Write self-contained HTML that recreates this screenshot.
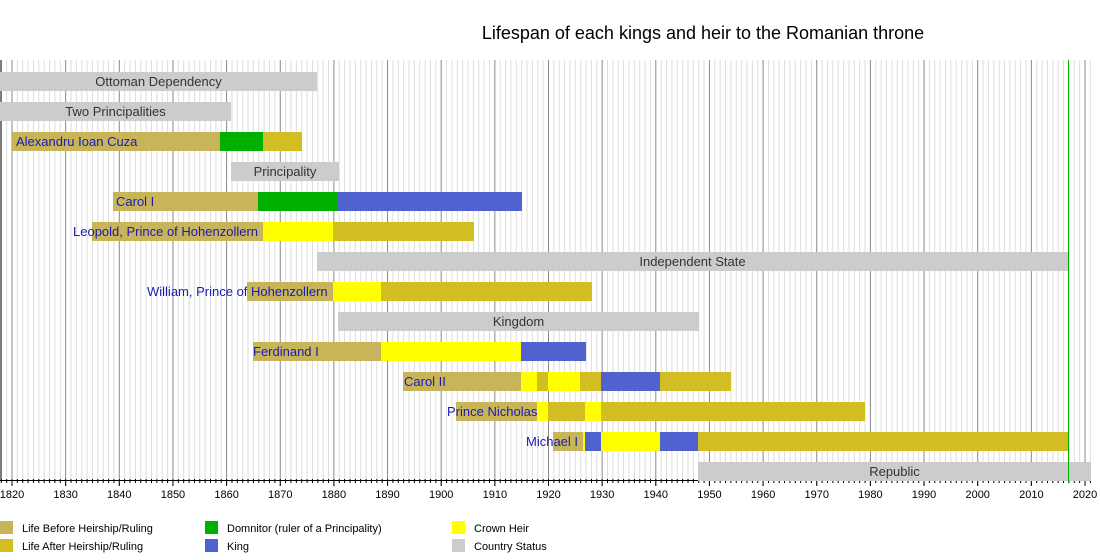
<!DOCTYPE html>
<html><head><meta charset="utf-8"><style>body{margin:0;background:#fff}svg{display:block}</style></head>
<body>
<svg id="s" width="1100" height="560" xmlns="http://www.w3.org/2000/svg" font-family="Liberation Sans, sans-serif"></svg>
<script>
const s=document.getElementById('s');
const X=y=>12+(y-1820)*5.365;
let h='';
h+='<text x="703" y="39" font-size="18" text-anchor="middle" fill="#000">Lifespan of each kings and heir to the Romanian throne</text>';
for(let y=1818;y<=2021;y++){const x=X(y);if(x<1||x>1092)continue;const maj=y%10==0;
h+=`<line x1="${x}" y1="60" x2="${x}" y2="${maj?486:483}" stroke="${maj?'#888':'#ddd'}" stroke-width="1"/>`;
h+=`<line x1="${x}" y1="479" x2="${x}" y2="${maj?486:483}" stroke="#000" stroke-width="1"/>`;
if(maj)h+=`<text x="${x}" y="498" font-size="11" text-anchor="middle" fill="#000">${y}</text>`;}
h+='<line x1="1" y1="60" x2="1" y2="481" stroke="#000"/><line x1="0" y1="480.5" x2="1091" y2="480.5" stroke="#000"/>';
const C={b:'#c9b559',a:'#d2bd22',g:'#00b000',k:'#4f62cf',y:'#ffff00',s:'#cccccc'};
function bar(row,x1,x2,c){h+=`<rect x="${x1}" y="${72+row*30}" width="${x2-x1}" height="19" fill="${C[c]}"/>`;}
function st(row,x1,x2,t){bar(row,x1,x2,'s');h+=`<text x="${(x1+x2)/2}" y="${86+row*30}" font-size="13" text-anchor="middle" fill="#333">${t}</text>`;}
function lb(row,x,t){h+=`<text x="${x}" y="${86+row*30}" font-size="13" fill="#1a1ab4">${t}</text>`;}
st(0,0,317,'Ottoman Dependency');
st(1,0,231,'Two Principalities');
bar(2,12,220,'b');bar(2,220,263,'g');bar(2,263,302,'a');lb(2,16,'Alexandru Ioan Cuza');
st(3,231,339,'Principality');
bar(4,113,258,'b');bar(4,258,338,'g');bar(4,338,522,'k');lb(4,116,'Carol I');
bar(5,92,263,'b');bar(5,263,333,'y');bar(5,333,474,'a');lb(5,73,'Leopold, Prince of Hohenzollern');
st(6,317,1068,'Independent State');
bar(7,247,333,'b');bar(7,333,381,'y');bar(7,381,592,'a');lb(7,147,'William, Prince of Hohenzollern');
st(8,338,699,'Kingdom');
bar(9,253,381,'b');bar(9,381,521,'y');bar(9,521,586,'k');lb(9,253,'Ferdinand I');
bar(10,403,521,'b');bar(10,521,537,'y');bar(10,537,548,'a');bar(10,548,580,'y');bar(10,580,601,'a');bar(10,601,660,'k');bar(10,660,731,'a');lb(10,404,'Carol II');
bar(11,456,537,'b');bar(11,537,548,'y');bar(11,548,585,'a');bar(11,585,601,'y');bar(11,601,865,'a');lb(11,447,'Prince Nicholas');
bar(12,553,583,'b');bar(12,583,586,'y');bar(12,585,601,'k');bar(12,601,660,'y');bar(12,660,698,'k');bar(12,698,1068,'a');lb(12,526,'Michael I');
st(13,698,1091,'Republic');
h+='<line x1="1068.5" y1="60" x2="1068.5" y2="481" stroke="#00b000"/>';
const L=[[0,521,'b','Life Before Heirship/Ruling'],[0,539,'a','Life After Heirship/Ruling'],[205,521,'g','Domnitor (ruler of a Principality)'],[205,539,'k','King'],[452,521,'y','Crown Heir'],[452,539,'s','Country Status']];
for(const[x,y,c,t]of L){h+=`<rect x="${x}" y="${y}" width="13" height="13" fill="${C[c]}"/><text x="${x+22}" y="${y+11}" font-size="11" fill="#000">${t}</text>`;}
s.innerHTML=h;
</script>
</body></html>
